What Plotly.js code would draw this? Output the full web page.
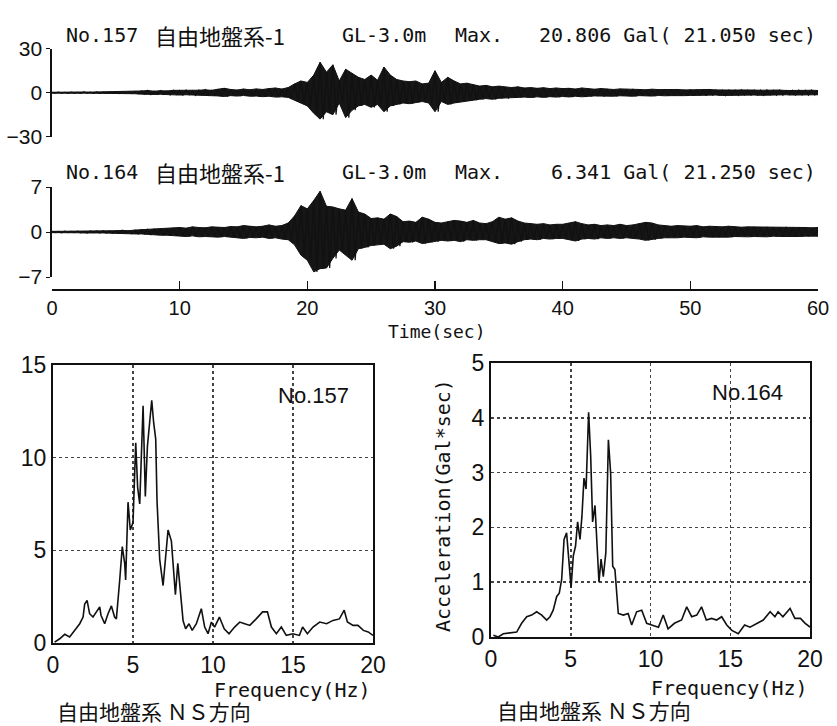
<!DOCTYPE html>
<html><head><meta charset="utf-8">
<script src="https://cdn.plot.ly/plotly-3.0.1.min.js"></script>
<style>html,body{margin:0;padding:0;background:#fff}#c{width:837px;height:726px}</style>
</head><body><div id="c"></div>
<script>
// ---- data ----
// envelope of the acceleration records, sampled every 0.5 s from 0 to 60 s
const envStep = 0.5;
const up157 = [0.3,0.4,0.3,0.4,0.3,0.5,0.4, 0.5,0.4,0.6,0.5,0.7,0.6,0.8,
  1.2,1.5,1.0,1.4,1.2,1.6, 1.5,1.8,1.3,1.7,2.0,1.6, 2.4,3.0,2.2,1.8,2.5,2.0,
  2.6,2.2,2.8,3.2,2.5,3.5, 6.0,8.0,7.0,12.0, 20.8,14.0,19.0,8.0, 16.0,13.0,10.5,9.0,
  12.0,8.5,17.5,12.0, 9.0,8.0,7.5,8.0, 6.0,6.5,15.0,7.0, 10.5,8.0,6.0,6.5,
  5.5,4.5,5.0,4.0, 4.5,3.8,3.5,4.0, 3.2,3.5,3.0,3.4,2.8,3.2,
  2.8,3.0,2.5,3.2,2.6,2.4,2.8,2.5,2.2,2.6, 2.3,2.5,2.2,2.0,2.4,2.1,2.3,2.0,2.2,1.9,
  2.1,1.8,2.0,2.2,1.9,1.7,2.0,1.8,1.9,1.6, 1.8,1.7,1.9,1.6,1.8,1.5,1.7,1.8,1.6,1.7,1.5];
const lo157 = [0.3,0.3,0.4,0.3,0.4,0.3,0.4, 0.4,0.5,0.4,0.6,0.5,0.6,0.7,
  1.0,1.3,1.2,1.1,1.5,1.3, 1.6,1.4,1.8,1.5,1.7,2.0, 2.2,2.6,2.0,2.3,1.9,2.4,
  2.3,2.7,2.4,3.0,2.8,3.2, 5.0,7.0,9.0,14.0, 18.0,13.0,15.0,7.0, 17.0,12.0,9.0,8.0,
  10.0,8.0,13.0,9.0, 8.0,7.0,7.5,6.5, 6.0,7.0,13.0,6.0, 8.0,7.0,6.0,5.5,
  5.0,4.5,4.0,4.5, 3.8,4.0,3.5,3.2, 3.0,3.3,2.8,3.2,2.7,3.0,
  2.6,2.9,2.4,2.8,2.5,2.2,2.6,2.3,2.4,2.1, 2.2,2.4,2.0,2.1,2.3,1.9,2.1,2.0,1.8,2.0,
  1.9,1.7,2.0,1.8,1.6,1.9,1.7,1.8,1.5,1.7, 1.6,1.8,1.5,1.7,1.6,1.4,1.6,1.5,1.7,1.5,1.4];
const up164 = [0.1,0.1,0.12,0.1,0.12,0.1,0.15, 0.15,0.2,0.15,0.2,0.25,0.2,0.3,
  0.35,0.4,0.45,0.5,0.55,0.6, 0.7,0.6,0.8,0.7,0.65,0.8, 0.75,0.7,0.85,0.8,1.0,0.9,
  0.8,0.9,1.1,0.9,1.0,1.4, 2.5,4.1,3.6,4.9, 6.34,4.0,3.9,3.6, 3.4,5.2,3.1,2.8,
  2.1,2.2,2.0,2.8, 2.4,1.6,1.7,1.5, 2.3,2.0,1.5,1.4, 1.6,1.8,1.7,1.5,
  1.8,1.4,1.3,1.6, 2.3,2.0,2.2,1.7, 1.4,1.3,1.2,1.3,1.1,1.2,
  1.2,1.4,1.6,1.3,1.1,1.2,1.0,1.1,1.0,1.2, 1.0,1.1,1.3,1.5,1.4,1.1,1.0,0.9,1.0,0.9,
  0.9,1.0,0.8,0.9,0.85,0.8,0.9,0.8,0.75,0.8, 0.8,0.75,0.8,0.7,0.75,0.8,0.7,0.75,0.7,0.65,0.7];
const lo164 = [0.1,0.12,0.1,0.1,0.12,0.15,0.1, 0.15,0.15,0.2,0.2,0.2,0.25,0.3,
  0.3,0.4,0.4,0.5,0.5,0.6, 0.6,0.7,0.6,0.75,0.7,0.7, 0.8,0.7,0.8,0.9,1.0,0.85,
  0.9,0.8,1.0,0.9,1.1,1.2, 2.0,3.6,4.4,6.2, 5.7,5.6,4.1,2.8, 3.6,4.4,2.6,2.4,
  2.1,2.0,1.9,2.6, 2.2,1.5,1.6,1.4, 1.8,1.6,1.5,1.3, 1.4,1.3,1.5,1.2,
  1.3,1.2,1.2,1.5, 1.8,1.7,1.9,1.5, 1.2,1.1,1.2,1.0,1.1,1.0,
  1.0,1.2,1.4,1.1,1.0,1.1,0.9,1.0,0.9,1.0, 0.9,1.0,1.1,1.3,1.2,1.0,0.9,0.85,0.9,0.8,
  0.8,0.9,0.75,0.8,0.8,0.75,0.8,0.7,0.7,0.75, 0.7,0.7,0.75,0.65,0.7,0.7,0.65,0.7,0.65,0.6,0.65];

// Fourier spectra
const freq157 = [0.1,0.42,0.73,1.04,1.35,1.67,1.88,1.98,2.13,2.29,2.5,2.7,2.92,3.0,3.23,3.44,3.65,3.85,3.96,4.17,4.33,4.48,4.54,4.69,4.83,5.0,5.17,5.29,5.42,5.63,5.77,5.9,6.04,6.17,6.29,6.42,6.5,6.67,6.88,7.08,7.19,7.4,7.54,7.65,7.8,7.96,8.13,8.29,8.5,8.7,8.96,9.27,9.48,9.69,9.9,10.1,10.4,10.7,11.0,11.35,11.67,11.98,12.3,12.7,13.1,13.4,13.65,13.96,14.27,14.58,15.0,15.4,15.6,15.9,16.25,16.67,17.1,17.5,17.9,18.2,18.4,18.75,19.06,19.4,19.7,20.0];
const amp157 = [0.05,0.23,0.47,0.32,0.68,1.04,1.4,2.1,2.3,1.58,1.4,1.68,1.95,1.5,1.04,1.58,2.0,1.4,1.3,3.4,5.2,4.3,3.4,7.6,6.1,6.5,10.8,8.4,7.5,12.8,7.9,10.6,11.9,13.1,11.9,11.0,7.7,4.5,3.1,5.2,6.1,5.5,3.9,2.6,4.3,2.7,1.2,0.77,1.04,0.68,1.04,1.85,0.86,0.5,1.13,0.86,1.4,0.77,0.5,0.86,1.13,1.04,0.95,1.3,1.68,1.68,0.86,0.5,0.86,0.41,0.5,0.41,0.86,0.5,0.86,1.13,1.04,1.22,1.3,1.77,1.13,0.95,0.95,0.68,0.6,0.41];
const freq164 = [0.15,0.46,0.77,1.19,1.61,1.92,2.24,2.55,2.86,3.18,3.49,3.7,3.9,4.12,4.28,4.43,4.58,4.74,4.89,5.02,5.16,5.3,5.43,5.58,5.7,5.83,5.96,6.12,6.25,6.37,6.52,6.67,6.77,6.9,7.04,7.2,7.36,7.5,7.63,7.77,7.98,8.3,8.6,8.82,9.13,9.45,9.76,10.07,10.5,10.8,11.1,11.5,11.95,12.27,12.58,12.9,13.2,13.5,13.83,14.15,14.46,14.78,15.1,15.5,15.9,16.24,16.66,17.07,17.5,17.8,18.0,18.3,18.75,19.05,19.4,19.7,20.0];
const amp164 = [0.03,0.0,0.06,0.07,0.09,0.25,0.37,0.4,0.46,0.4,0.31,0.37,0.49,0.74,0.8,1.05,1.78,1.9,1.42,0.9,1.48,1.66,2.1,1.78,2.2,2.9,2.7,4.1,3.3,2.1,2.4,1.48,1.0,1.42,1.1,1.54,3.6,3.0,1.29,1.23,0.43,0.4,0.43,0.22,0.46,0.49,0.25,0.22,0.18,0.4,0.15,0.25,0.31,0.55,0.37,0.4,0.55,0.31,0.34,0.31,0.37,0.22,0.12,0.06,0.22,0.18,0.25,0.31,0.46,0.37,0.46,0.37,0.52,0.34,0.34,0.25,0.18];

const xTicksTime = [0,10,20,30,40,50,60];

// ---- build the drawing ----
const W = 837, H = 726;
const px = x => x / W, py = y => 1 - y / H;

// zigzag through the read peaks (upper at t, lower at t + step/2)
function zig(up, lo){
  const t = [], v = [];
  for (let i = 0; i < up.length; i++){
    t.push(i*envStep); v.push(up[i]);
    if (i < up.length-1){ t.push(i*envStep + envStep/2); v.push(-lo[i]); }
  }
  return {t, v};
}
// closed band: upper envelope forward, lower envelope back
function band(up, lo){
  const t = [], v = [];
  for (let i = 0; i < up.length; i++){ t.push(i*envStep); v.push(up[i]); }
  for (let i = lo.length-1; i >= 0; i--){ t.push(i*envStep); v.push(-lo[i]); }
  t.push(0); v.push(up[0]);
  return {t, v};
}
const z157 = zig(up157, lo157), z164 = zig(up164, lo164);
const b157 = band(up157, lo157), b164 = band(up164, lo164);

const blk = '#111';
const traces = [
  {x: b157.t, y: b157.v, xaxis:'x', yaxis:'y', mode:'lines', fill:'toself', fillcolor:'#161616', line:{color:blk, width:1}, hoverinfo:'skip'},
  {x: z157.t, y: z157.v, xaxis:'x', yaxis:'y', mode:'lines', line:{color:blk, width:1.2}, hoverinfo:'skip'},
  {x: b164.t, y: b164.v, xaxis:'x2', yaxis:'y2', mode:'lines', fill:'toself', fillcolor:'#161616', line:{color:blk, width:1}, hoverinfo:'skip'},
  {x: z164.t, y: z164.v, xaxis:'x2', yaxis:'y2', mode:'lines', line:{color:blk, width:1.2}, hoverinfo:'skip'},
  {x: freq157, y: amp157, xaxis:'x3', yaxis:'y3', mode:'lines', line:{color:blk, width:1.6}},
  {x: freq164, y: amp164, xaxis:'x4', yaxis:'y4', mode:'lines', line:{color:blk, width:1.6}}
];

const numFam = 'Liberation Sans, Arial, sans-serif';
const numFont = {family:numFam, size:23, color:blk};
const monoFam = 'DejaVu Sans Mono, monospace';
const jpFont = {family:'Noto Sans CJK JP, sans-serif', size:21, color:blk};

const tsY = (dom, r, tv) => ({domain:dom, range:r, tickvals:tv, showline:true, linecolor:blk, linewidth:1.6,
  ticks:'outside', ticklen:4, tickcolor:blk, showgrid:false, zeroline:false,
  tickfont:{family:numFam, size:21, color:blk}});
const specX = (dom, anc) => ({domain:dom, range:[0,20], anchor:anc, dtick:5, tick0:0, showline:true, mirror:true,
  linecolor:blk, linewidth:2, showgrid:true, gridcolor:'#444', griddash:'dot', gridwidth:1.5,
  zeroline:false, ticks:'', tickfont:numFont});
const specY = (dom, r, dt, anc) => ({domain:dom, range:r, anchor:anc, dtick:dt, tick0:0, showline:true, mirror:true,
  linecolor:blk, linewidth:2, showgrid:true, gridcolor:'#444', griddash:'dot', gridwidth:1.5,
  zeroline:false, ticks:'', tickfont:numFont});

const layout = {
  width: W, height: H, margin:{l:0,r:0,t:0,b:0}, showlegend:false,
  paper_bgcolor:'#fff', plot_bgcolor:'rgba(0,0,0,0)',
  xaxis:{domain:[px(52),px(818)], range:[0,60], anchor:'y', visible:false},
  yaxis:tsY([py(136.7),py(48.7)], [-30,30], [-30,0,30]),
  xaxis2:{domain:[px(52),px(818)], range:[0,60], anchor:'free', position:py(289), tickvals:xTicksTime,
    showline:true, linecolor:blk, linewidth:1.8, ticks:'inside', ticklen:8, tickwidth:1.5, tickcolor:blk,
    showgrid:false, zeroline:false, tickfont:{family:numFam, size:20, color:blk}},
  yaxis2:tsY([py(277),py(187)], [-7,7], [-7,0,7]),
  xaxis3:specX([px(53),px(373)], 'y3'),
  yaxis3:specY([py(643),py(365)], [0,15], 5, 'x3'),
  xaxis4:specX([px(491),px(810)], 'y4'),
  yaxis4:specY([py(637),py(363)], [0,5], 1, 'x4'),
  annotations:[]
};

function ann(text, x, y, font, xanchor, extra){
  layout.annotations.push(Object.assign({text, x:px(x), y:py(y), xref:'paper', yref:'paper',
    showarrow:false, font, xanchor:xanchor||'center', yanchor:'middle'}, extra||{}));
}
const tFont = {family:'DejaVu Sans Mono, Noto Sans CJK JP, monospace', size:20, color:blk};
const tJp = {family:'Noto Sans CJK JP, DejaVu Sans Mono, sans-serif', size:22, color:blk};
// record titles
ann('No.157', 64, 35, tFont, 'left');
ann('自由地盤系-1', 153, 35, tJp, 'left');
ann('GL-3.0m', 340, 35, tFont, 'left');
ann('Max.', 453, 35, tFont, 'left');
ann('20.806 Gal( 21.050 sec)', 818, 35, tFont, 'right');
ann('No.164', 64, 172, tFont, 'left');
ann('自由地盤系-1', 153, 172, tJp, 'left');
ann('GL-3.0m', 340, 172, tFont, 'left');
ann('Max.', 453, 172, tFont, 'left');
ann('6.341 Gal( 21.250 sec)', 818, 172, tFont, 'right');
// axis titles
ann('Time(sec)', 437, 331, {family:monoFam, size:18, color:blk});
ann('Frequency(Hz)', 292, 690, {family:monoFam, size:20, color:blk});
ann('Frequency(Hz)', 729, 688, {family:monoFam, size:20, color:blk});
ann('Acceleration(Gal*sec)', 443, 505, {family:monoFam, size:20, color:blk}, 'center', {textangle:-90});
// panel labels
ann('No.157', 313, 395, {family:numFam, size:22, color:blk});
ann('No.164', 747, 392, {family:numFam, size:22, color:blk});
// captions
ann('自由地盤系 ＮＳ方向', 55, 711, jpFont, 'left');
ann('自由地盤系 ＮＳ方向', 495, 710, jpFont, 'left');

Plotly.newPlot('c', traces, layout, {staticPlot:true});
</script></body></html>
